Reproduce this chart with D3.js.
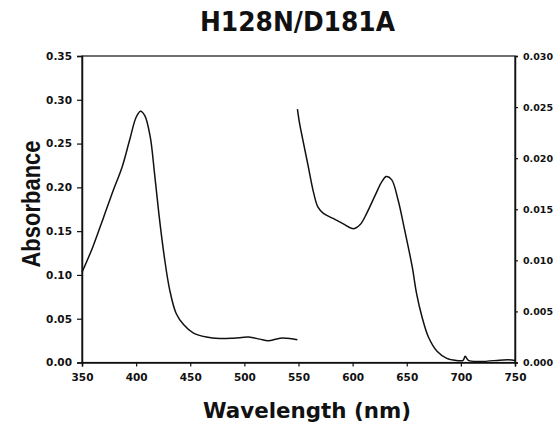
<!DOCTYPE html>
<html>
<head>
<meta charset="utf-8">
<script src="https://cdn.jsdelivr.net/npm/d3@7"></script>
<style>
    body { margin: 0; background: #fff; }
    svg { display: block; }
    .tick text { font-family: "DejaVu Sans", Verdana, sans-serif; font-weight: bold; fill: #111; }
</style>
</head>
<body>
<script>
// soret band region, read against the left axis
var soretWavelength = [350, 360, 370, 379, 387, 394, 400, 404, 408, 413, 417, 421, 426, 431, 437, 444, 453, 465, 477, 490, 504, 514, 522, 533, 542, 549];
var soretAbsorbance = [0.103, 0.132, 0.166, 0.197, 0.223, 0.254, 0.280, 0.287, 0.282, 0.258, 0.216, 0.170, 0.121, 0.083, 0.056, 0.043, 0.0335, 0.029, 0.0274, 0.0278, 0.029, 0.0267, 0.0248, 0.0278, 0.0274, 0.0259];

// visible region, read against the right axis
var visWavelength = [549, 551, 554, 559, 564, 568, 573, 582, 591, 601, 607, 613, 621, 627, 631, 636, 642, 648, 655, 659, 664, 670, 678, 687, 696, 702, 704, 707, 718, 739, 747, 750];
var visAbsorbance = [0.0248, 0.0234, 0.0218, 0.0192, 0.0166, 0.0152, 0.0146, 0.0141, 0.0136, 0.0131, 0.0135, 0.0146, 0.0164, 0.0177, 0.0182, 0.0179, 0.0159, 0.0130, 0.0094, 0.0068, 0.0045, 0.0025, 0.0011, 0.0004, 0.0002, 0.0002, 0.0006, 0.0002, 0.0001, 0.00025, 0.00025, 0.0002];

var xTicks = [350, 400, 450, 500, 550, 600, 650, 700, 750];
var leftTicks = [0, 0.05, 0.10, 0.15, 0.20, 0.25, 0.30, 0.35];
var rightTicks = [0, 0.005, 0.010, 0.015, 0.020, 0.025, 0.030];

var W = 554, H = 430;
var margin = {top: 56, right: 39, bottom: 67.5, left: 82};
var w = W - margin.left - margin.right,
    h = H - margin.top - margin.bottom;

var svg = d3.select("body").append("svg").attr("width", W).attr("height", H);
var g = svg.append("g").attr("transform", "translate(" + margin.left + "," + margin.top + ")");

var x = d3.scaleLinear().domain([350, 750]).range([0, w]);
var yL = d3.scaleLinear().domain([0, 0.35]).range([h, 0]);
var yR = d3.scaleLinear().domain([0, 0.030]).range([h, 0]);

// frame
g.append("rect").attr("width", w).attr("height", h)
    .attr("fill", "none").attr("stroke", "#111").attr("stroke-width", 1.2);

var ax = g.append("g").attr("transform", "translate(0," + h + ")")
    .call(d3.axisBottom(x).tickValues(xTicks).tickSize(4).tickPadding(7).tickFormat(d3.format("d")));
ax.selectAll("text").style("font-size", "10.5px");

var al = g.append("g")
    .call(d3.axisLeft(yL).tickValues(leftTicks).tickSize(5).tickPadding(5).tickFormat(d3.format(".2f")));
al.selectAll("text").style("font-size", "10.5px");

var ar = g.append("g").attr("transform", "translate(" + w + ",0)")
    .call(d3.axisRight(yR).tickValues(rightTicks).tickSize(3).tickPadding(5).tickFormat(d3.format(".3f")));
ar.selectAll("text").style("font-size", "9.5px");

[ax, al, ar].forEach(function (a) {
    a.select(".domain").attr("stroke", "#111").attr("stroke-width", 1.5);
    a.selectAll(".tick line").attr("stroke", "#111").attr("stroke-width", 1.2);
});

// spectra
var lineL = d3.line().x(function (d, i) { return x(soretWavelength[i]); })
    .y(function (d) { return yL(d); }).curve(d3.curveCatmullRom);
var lineR = d3.line().x(function (d, i) { return x(visWavelength[i]); })
    .y(function (d) { return yR(d); }).curve(d3.curveCatmullRom);

g.append("path").datum(soretAbsorbance).attr("d", lineL)
    .attr("fill", "none").attr("stroke", "#111").attr("stroke-width", 1.5);
g.append("path").datum(visAbsorbance).attr("d", lineR)
    .attr("fill", "none").attr("stroke", "#111").attr("stroke-width", 1.5);

// titles
svg.append("text").attr("x", 297.5).attr("y", 31).attr("text-anchor", "middle")
    .attr("textLength", 195).attr("lengthAdjust", "spacingAndGlyphs")
    .style("font-family", "'DejaVu Sans', Verdana, sans-serif").style("font-weight", "bold")
    .style("font-size", "27px").attr("fill", "#111").text("H128N/D181A");

svg.append("text").attr("x", 307).attr("y", 418).attr("text-anchor", "middle")
    .attr("textLength", 208).attr("lengthAdjust", "spacingAndGlyphs")
    .style("font-family", "'DejaVu Sans', Verdana, sans-serif").style("font-weight", "bold")
    .style("font-size", "21px").attr("fill", "#111").text("Wavelength (nm)");

svg.append("text").attr("transform", "translate(40,204) rotate(-90)").attr("text-anchor", "middle")
    .attr("textLength", 127).attr("lengthAdjust", "spacingAndGlyphs")
    .style("font-family", "'Liberation Sans', Arial, sans-serif").style("font-weight", "bold")
    .style("font-size", "26px").attr("fill", "#111").text("Absorbance");
</script>
</body>
</html>
